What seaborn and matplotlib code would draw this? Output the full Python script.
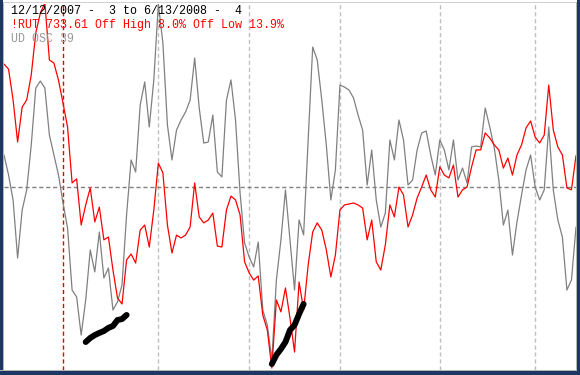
import numpy as np
import pandas as pd
import matplotlib
matplotlib.use("Agg")
import matplotlib.pyplot as plt
import seaborn as sns
from matplotlib.patches import Rectangle

# trading days 12/12/2007 .. 6/13/2008
holidays = ["2007-12-25", "2008-01-01", "2008-01-21", "2008-02-18",
            "2008-03-21", "2008-05-26"]
dates = pd.bdate_range("2007-12-12", "2008-06-13")
dates = dates[~dates.isin(pd.to_datetime(holidays))]

rut = [
    771.9, 769.8, 756.9, 739.3, 753.9, 756.9, 767.3, 784.9, 793.2, 797.4,
    773.6, 772.3, 765.2, 755.6, 745.6, 722.2, 723.9, 704.6, 713.0, 720.1,
    705.9, 712.1, 698.4, 699.6, 685.8, 674.1, 671.6, 690.0, 692.5, 688.7,
    702.5, 704.6, 695.4, 710.9, 730.5, 726.4, 704.6, 692.9, 700.4, 699.2,
    700.4, 703.8, 722.2, 708.0, 705.5, 706.7, 709.6, 695.8, 695.4, 710.9,
    716.7, 715.1, 708.8, 689.2, 684.6, 681.6, 683.3, 667.0, 660.7, 644.8,
    673.3, 668.3, 678.3, 665.7, 651.5, 680.8, 669.1, 687.9, 701.7, 705.5,
    702.5, 694.2, 682.9, 692.1, 710.9, 713.0, 713.4, 713.8, 713.0, 711.7,
    698.4, 706.7, 689.2, 685.8, 696.3, 713.0, 708.0, 720.5, 717.2, 703.8,
    708.8, 715.9, 720.5, 725.5, 719.3, 716.3, 728.9, 725.5, 724.3, 729.7,
    716.3, 719.3, 720.5, 728.9, 736.0, 736.0, 743.1, 741.0, 738.1, 736.0,
    728.4, 732.6, 725.5, 733.9, 738.1, 745.2, 748.1, 741.4, 738.9, 742.2,
    763.1, 744.3, 737.2, 733.9, 720.1, 719.3, 733.6,
]

ud_osc = [
    17.5, 6.6, -7.1, -38.8, -12.6, -1.6, 22.9, 54.1, 57.9, 54.1,
    28.4, 17.5, 6.6, -8.7, -22.4, -56.3, -60.1, -80.9, -61.7, -34.4,
    -46.4, -24.6, -49.7, -44.3, -67.2, -62.8, -53.5, -15.3, 14.8, 8.2,
    44.8, 57.4, 32.8, 58.5, 100.0, 78.7, 33.9, 14.8, 31.1, 36.6,
    41.0, 47.5, 70.5, 43.2, 24.0, 24.6, 39.3, 8.2, 5.5, 47.5,
    58.5, 36.6, -3.3, -30.6, -38.2, -43.7, -30.1, -67.2, -75.4, -94.5,
    -50.8, -29.0, -1.6, -29.0, -56.3, -18.0, -26.2, 25.7, 76.5, 69.4,
    47.5, 22.9, -7.1, 9.3, 55.7, 54.6, 53.0, 48.6, 39.3, 31.1,
    1.1, 20.2, -7.1, -21.9, -14.2, 25.7, 14.8, 36.6, 25.7, 1.1,
    3.8, 20.2, 29.5, 30.6, 17.5, 6.6, 25.7, 20.2, 9.3, 25.7,
    3.8, 10.4, 2.2, 21.9, 22.4, 21.9, 43.2, 32.8, 21.3, 3.8,
    -20.8, -12.6, -37.2, -19.1, -4.4, 9.3, 17.5, 0.0, -7.1, -1.6,
    32.8, -1.6, -18.0, -27.3, -56.3, -50.8, -21.9,
]

# hand drawn divergence strokes (trading day index, RUT level)
div1_days = list(range(18, 28))
div1_vals = [655.7, 657.4, 658.6, 659.5, 660.3, 661.6, 662.4, 664.9, 665.3, 667.0]
div2_days = list(range(59, 67))
div2_vals = [646.5, 650.3, 652.8, 655.7, 660.7, 662.8, 667.4, 671.6]

title_line = "12/12/2007 -  3 to 6/13/2008 -  4"
rut_line = "!RUT 733.61 Off High 8.0% Off Low 13.9%"
osc_line = "UD OSC 39"

df = pd.DataFrame({"day": np.arange(len(dates)), "rut": rut, "osc": ud_osc})
month_starts = np.where(np.diff(dates.month) != 0)[0] + 1
year_starts = np.where(np.diff(dates.year) != 0)[0] + 1

sns.set_style("white")
plt.rcParams["font.family"] = ["Liberation Mono", "DejaVu Sans Mono"]

W, H = 580, 375
fig = plt.figure(figsize=(W / 100, H / 100), dpi=100)
ax = fig.add_axes([4 / W, 5 / H, 572 / W, 366 / H])
ax2 = ax.twinx()

for d in month_starts:
    if d in year_starts:
        ax.axvline(d, color="#e00000", lw=1, ls=(0, (3, 2)), zorder=1)
    else:
        ax.axvline(d, color="#c0c0c0", lw=1, ls=(0, (3, 2)), zorder=1)
ax.axhline(0, color="#808080", lw=1, ls=(0, (3, 2)), zorder=1)

sns.lineplot(data=df, x="day", y="osc", ax=ax, color="#808080", lw=0.9, zorder=3)
sns.lineplot(data=df, x="day", y="rut", ax=ax2, color="#ff0000", lw=0.9, zorder=3)
sns.lineplot(x=div1_days, y=div1_vals, ax=ax2, color="black", lw=4.3,
             solid_capstyle="round", zorder=4)
sns.lineplot(x=div2_days, y=div2_vals, ax=ax2, color="black", lw=4.3,
             solid_capstyle="round", zorder=4)

ax.set_xlim(0, len(dates) - 1)
ax.set_ylim(-100, 100)
ax2.set_ylim(644, 797)
for a in (ax, ax2):
    a.set_xticks([])
    a.set_yticks([])
    a.set_xlabel("")
    a.set_ylabel("")
    for s in a.spines.values():
        s.set_visible(False)

fig.text(11 / W, 1 - 14 / H, title_line, color="black", fontsize=8.4, va="baseline")
fig.text(11 / W, 1 - 28 / H, rut_line, color="#ff0000", fontsize=8.4, va="baseline")
fig.text(11 / W, 1 - 41.5 / H, osc_line, color="#999999", fontsize=8.4, va="baseline")

# window frame
navy = "#1c3764"
frame = "#b4b4b4"
for (x0, y0, w, h, c) in [
    (0, 0, 3, H, navy),
    (3, 0, 1, H - 2, frame),
    (0, 0, W, 4, navy),
    (0, 4, W, 1, frame),
    (577, 0, 3, H, navy),
    (576, 4, 1, H - 6, frame),
    (3, H - 3, 573, 1, "#d0d0d0"),
]:
    fig.add_artist(Rectangle((x0 / W, y0 / H), w / W, h / H, transform=fig.transFigure,
                             facecolor=c, edgecolor="none", zorder=10))

fig.savefig("out.png", dpi=100)
